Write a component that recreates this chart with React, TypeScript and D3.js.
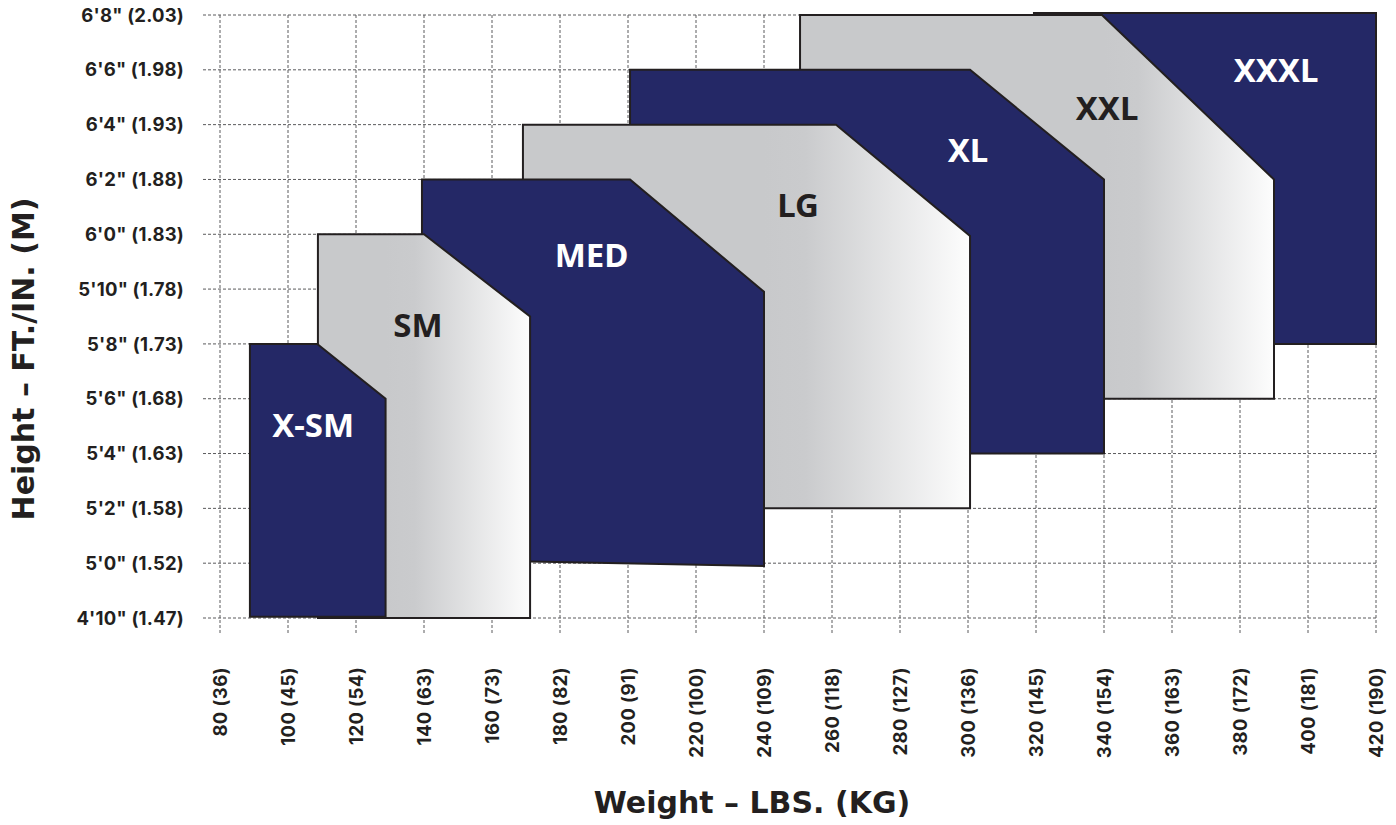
import React from "react";
import * as d3 from "d3";

const W = 1396;
const H = 825;

// Size regions: vertices as [weight lbs, height inches], drawn back to front
const sizeNames = ["XXXL", "XXL", "XL", "LG", "MED", "SM", "X-SM"];
const sizeFill = ["navy", "gray", "navy", "gray", "navy", "gray", "navy"];
const sizeShapes: [number, number][][] = [
  [[319.4, 80.07], [420, 80.07], [420, 68], [319.4, 68]],
  [[250.6, 80], [339.4, 80], [390, 74], [390, 66], [250.6, 66]],
  [[200.6, 78], [300.6, 78], [340, 74], [340, 64], [200.6, 64]],
  [[169.1, 76], [261.2, 76], [300.6, 71.94], [300.6, 62], [169.1, 62]],
  [[139.4, 74], [200.6, 74], [240, 69.9], [240, 59.9], [171.2, 60.06], [139.4, 60.06]],
  [[108.8, 72], [140, 72], [171.2, 69], [171.2, 58], [108.8, 58]],
  [[88.8, 68], [108.6, 68], [128.7, 66], [128.7, 58.05], [88.8, 58.05]],
];
// gradient span (weight where the shape emerges from the one in front, to its right edge)
const gradStart = [390, 340, 300.6, 240, 171.2, 128.7, 88.8];
const gradEnd = [420, 390, 340, 300.6, 240, 171.2, 128.7];
// label anchors [weight, height]
const labelAt: [number, number][] = [
  [390.6, 77.55],
  [340.9, 76.17],
  [300, 74.64],
  [250, 72.63],
  [189.3, 70.8],
  [138.2, 68.25],
  [107.4, 64.6],
];

const heightTicks = d3.range(58, 81, 2);
const heightLabels = [
  `4'10" (1.47)`, `5'0" (1.52)`, `5'2" (1.58)`, `5'4" (1.63)`, `5'6" (1.68)`, `5'8" (1.73)`,
  `5'10" (1.78)`, `6'0" (1.83)`, `6'2" (1.88)`, `6'4" (1.93)`, `6'6" (1.98)`, `6'8" (2.03)`,
];
const weightTicks = d3.range(80, 421, 20);
const weightLabels = [
  "80 (36)", "100 (45)", "120 (54)", "140 (63)", "160 (73)", "180 (82)", "200 (91)", "220 (100)",
  "240 (109)", "260 (118)", "280 (127)", "300 (136)", "320 (145)", "340 (154)", "360 (163)",
  "380 (172)", "400 (181)", "420 (190)",
];

const NAVY = "#242866";
const INK = "#231f20";
const FONT = "'Noto Sans', sans-serif";
const TICKFONT = "Inter, sans-serif";
const TITLEFONT = "'DejaVu Sans', sans-serif";

export default function App() {
  const x = d3.scaleLinear().domain([80, 420]).range([220, 1376]);
  const y = d3.scaleLinear().domain([58, 80]).range([618, 15]);
  const line = d3
    .line<[number, number]>()
    .x((d) => x(d[0]))
    .y((d) => y(d[1]))
    .curve(d3.curveLinearClosed);

  return (
    <div style={{ position: "fixed", left: 0, top: 0, width: W, height: H, background: "#fff" }}>
      <svg width={W} height={H} style={{ display: "block" }} fontFamily={FONT}>
        <defs>
          {sizeNames.map((n, i) =>
            sizeFill[i] === "gray" ? (
              <linearGradient
                key={n}
                id={`g${i}`}
                gradientUnits="userSpaceOnUse"
                x1={x(gradStart[i])}
                x2={x(gradEnd[i])}
                y1={0}
                y2={0}
              >
                <stop offset="0" stopColor="#c8c9cb" />
                <stop offset="0.2" stopColor="#cacbcd" />
                <stop offset="1" stopColor="#fdfdfd" />
              </linearGradient>
            ) : null
          )}
        </defs>
        {/* grid */}
        <g stroke="#5a5a5c" strokeWidth={1} strokeDasharray="3,2" fill="none">
          {heightTicks.map((t) => (
            <line key={"h" + t} x1={203} x2={x(420)} y1={y(t)} y2={y(t)} />
          ))}
          {weightTicks.map((t) => (
            <line key={"v" + t} x1={x(t)} x2={x(t)} y1={y(80)} y2={633} />
          ))}
        </g>
        {/* shapes */}
        <g stroke={INK} strokeWidth={2} strokeLinejoin="miter">
          {sizeShapes.map((s, i) => (
            <path
              key={sizeNames[i]}
              d={line(s) || ""}
              fill={sizeFill[i] === "navy" ? NAVY : `url(#g${i})`}
            />
          ))}
        </g>
        {/* size labels */}
        <g fontWeight={700} fontSize={33} textAnchor="middle">
          {sizeNames.map((n, i) => (
            <text
              key={n}
              x={x(labelAt[i][0])}
              y={y(labelAt[i][1])}
              fill={sizeFill[i] === "navy" ? "#ffffff" : INK}
            >
              {n}
            </text>
          ))}
        </g>
        {/* y tick labels */}
        <g fontFamily={TICKFONT} fontWeight={700} fontSize={18.5} fill={INK} textAnchor="end">
          {heightTicks.map((t, i) => (
            <text key={t} x={184} y={y(t)} dy="0.36em" letterSpacing={0.2}>
              {heightLabels[i]}
            </text>
          ))}
        </g>
        {/* x tick labels */}
        <g fontFamily={TICKFONT} fontWeight={700} fontSize={18.5} fill={INK} textAnchor="end">
          {weightTicks.map((t, i) => (
            <text
              key={t}
              transform={`translate(${x(t)},667) rotate(-90)`}
              dy="0.36em"
              letterSpacing={0.4}
            >
              {weightLabels[i]}
            </text>
          ))}
        </g>
        {/* axis titles */}
        <text
          x={752}
          y={813}
          textAnchor="middle"
          fontFamily={TITLEFONT}
          fontWeight={700}
          fontSize={30}
          fill={INK}
        >
          Weight – LBS. (KG)
        </text>
        <text
          transform={`translate(34,359) rotate(-90)`}
          textAnchor="middle"
          fontFamily={TITLEFONT}
          fontWeight={700}
          fontSize={30}
          fill={INK}
        >
          Height – FT./IN. (M)
        </text>
      </svg>
    </div>
  );
}
